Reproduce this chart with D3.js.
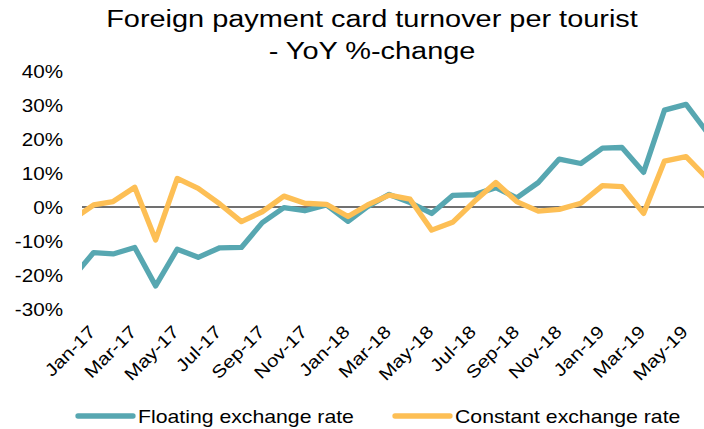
<!DOCTYPE html>
<html>
<head>
<meta charset="utf-8">
<script src="https://cdn.jsdelivr.net/npm/d3@7"></script>
<style>
  body { margin: 0; background: #fff; }
  svg { display: block; font-family: "Liberation Sans", Arial, sans-serif; }
</style>
</head>
<body>
<div id="chart"></div>
<script>
// months shown, Jan-17 .. Jul-19 (last one gets cut by the right edge)
const months = [
  'Jan-17','Feb-17','Mar-17','Apr-17','May-17','Jun-17','Jul-17','Aug-17','Sep-17','Oct-17','Nov-17','Dec-17',
  'Jan-18','Feb-18','Mar-18','Apr-18','May-18','Jun-18','Jul-18','Aug-18','Sep-18','Oct-18','Nov-18','Dec-18',
  'Jan-19','Feb-19','Mar-19','Apr-19','May-19','Jun-19','Jul-19'
];
const floating = [
  -21.0, -13.4, -13.8, -11.9, -23.2, -12.4, -14.8, -12.0, -11.9, -4.6, -0.2, -1.1,
  0.6, -4.2, 0.1, 3.7, 1.3, -1.9, 3.4, 3.6, 5.7, 2.7, 7.2, 14.1,
  12.8, 17.3, 17.5, 10.2, 28.5, 30.2, 22.0
];
const constant = [
  -3.8, 0.6, 1.6, 5.8, -9.7, 8.4, 5.5, 0.9, -4.3, -1.4, 3.2, 1.1,
  0.8, -2.8, 0.6, 3.5, 2.3, -6.8, -4.5, 1.6, 7.2, 1.6, -1.2, -0.7,
  1.1, 6.3, 6.0, -1.9, 13.5, 14.8, 8.5
];
const tickLabels = ['Jan-17','Mar-17','May-17','Jul-17','Sep-17','Nov-17','Jan-18','Mar-18',
  'May-18','Jul-18','Sep-18','Nov-18','Jan-19','Mar-19','May-19'];
const yTicks = [-30, -20, -10, 0, 10, 20, 30, 40];
const seriesNames = ['Floating exchange rate', 'Constant exchange rate'];
const seriesColors = ['#57a7b1', '#fdbf55'];

const width = 704, height = 429;
const stretch = 1.18; // text in the source is a bit wide

const parseMonth = d3.utcParse('%b-%y');
const dates = months.map(parseMonth);

const series = [floating, constant].map((vals, i) => ({
  name: seriesNames[i],
  color: seriesColors[i],
  values: vals.map((v, j) => ({ date: dates[j], value: v }))
}));

const plotLeft = 82;

const x = d3.scaleTime()
  .domain([parseMonth('Jan-17'), parseMonth('Jul-19')])
  .range([72, 707]);

const y = d3.scaleLinear().domain([-30, 40]).range([309, 71]);

const svg = d3.select('#chart')
  .append('svg')
  .attr('width', width)
  .attr('height', height);

// title, two lines
const title = ['Foreign payment card turnover per tourist', '- YoY %-change'];
svg.selectAll('.title')
  .data(title)
  .join('text')
  .attr('class', 'title')
  .attr('transform', (d, i) => `translate(372, ${27 + i * 32}) scale(${stretch}, 1)`)
  .attr('text-anchor', 'middle')
  .attr('font-size', 24.5)
  .attr('fill', '#000')
  .text(d => d);

// y axis labels only
const yAxis = svg.append('g')
  .attr('transform', `translate(${plotLeft}, 0)`)
  .call(d3.axisLeft(y).tickValues(yTicks).tickSize(0).tickFormat(d => d + '%'));
yAxis.select('.domain').remove();
yAxis.selectAll('text')
  .attr('x', 0)
  .attr('dy', null)
  .attr('transform', `translate(-19, 6.5) scale(${stretch}, 1)`)
  .attr('font-size', 17.5)
  .attr('font-family', '"Liberation Sans", Arial, sans-serif')
  .attr('fill', '#000');

// x axis labels, rotated
const xAxis = svg.append('g')
  .call(d3.axisBottom(x).tickValues(tickLabels.map(parseMonth)).tickSize(0)
    .tickFormat(d3.utcFormat('%b-%y')));
xAxis.select('.domain').remove();
xAxis.selectAll('text')
  .attr('x', 0)
  .attr('y', 0)
  .attr('dy', null)
  .attr('text-anchor', 'end')
  .attr('transform', `translate(24, 333) rotate(-45) scale(${stretch}, 1)`)
  .attr('font-size', 17.5)
  .attr('font-family', '"Liberation Sans", Arial, sans-serif')
  .attr('fill', '#000');

// zero line
svg.append('line')
  .attr('x1', plotLeft)
  .attr('x2', width)
  .attr('y1', y(0))
  .attr('y2', y(0))
  .attr('stroke', '#404040')
  .attr('stroke-width', 1.3);

// clip to plot area
svg.append('clipPath')
  .attr('id', 'plot-clip')
  .append('rect')
  .attr('x', plotLeft)
  .attr('y', 0)
  .attr('width', width - plotLeft)
  .attr('height', height);

const line = d3.line()
  .x(d => x(d.date))
  .y(d => y(d.value));

svg.append('g')
  .attr('clip-path', 'url(#plot-clip)')
  .selectAll('path')
  .data(series)
  .join('path')
  .attr('d', d => line(d.values))
  .attr('fill', 'none')
  .attr('stroke', d => d.color)
  .attr('stroke-width', 5.3)
  .attr('stroke-linejoin', 'round');

// legend
const legendPos = [78, 395];
const legend = svg.append('g')
  .selectAll('g')
  .data(series)
  .join('g')
  .attr('transform', (d, i) => `translate(${legendPos[i]}, 416)`);

legend.append('line')
  .attr('x1', 0)
  .attr('x2', 55)
  .attr('stroke', d => d.color)
  .attr('stroke-width', 5.3)
  .attr('stroke-linecap', 'round');

legend.append('text')
  .attr('transform', `translate(60, 7) scale(${stretch}, 1)`)
  .attr('font-size', 18)
  .attr('fill', '#000')
  .text(d => d.name);
</script>
</body>
</html>
